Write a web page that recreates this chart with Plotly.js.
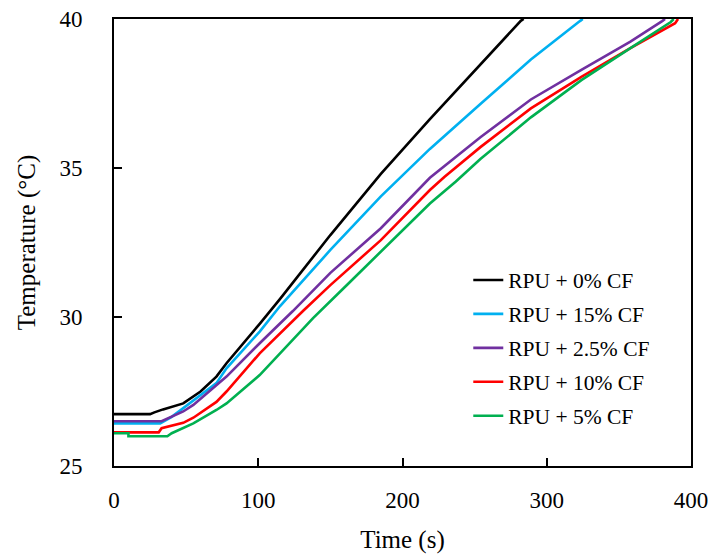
<!DOCTYPE html>
<html>
<head>
<meta charset="utf-8">
<script src="https://cdn.plot.ly/plotly-3.0.1.min.js"></script>
<style>html,body{margin:0;padding:0;background:#fff;}#chart{width:713px;height:554px;}</style>
</head>
<body>
<div id="chart"></div>
<script>
// Series names (legend order)
const seriesNames = ["RPU + 0% CF", "RPU + 15% CF", "RPU + 2.5% CF", "RPU + 10% CF", "RPU + 5% CF"];

// Time (s) and temperature (°C)
const t_cf0  = [0, 25, 28, 34, 48, 60, 71, 78, 101, 108, 115, 150, 185, 219, 254, 282, 284];
const T_cf0  = [26.74, 26.74, 26.8, 26.9, 27.1, 27.5, 28.0, 28.45, 29.77, 30.18, 30.6, 32.75, 34.8, 36.64, 38.49, 39.94, 40.0];

const t_cf15 = [0, 32, 40, 48, 55, 71, 78, 101, 115, 150, 185, 219, 254, 289, 323, 325];
const T_cf15 = [26.43, 26.43, 26.65, 26.94, 27.21, 27.78, 28.28, 29.51, 30.36, 32.25, 34.05, 35.64, 37.15, 38.64, 39.93, 40.0];

const t_cf25 = [0, 33, 48, 55, 78, 101, 124, 150, 185, 219, 254, 289, 324, 358, 380, 382];
const T_cf25 = [26.5, 26.5, 26.83, 27.05, 28.0, 29.12, 30.2, 31.48, 32.98, 34.67, 36.03, 37.3, 38.29, 39.24, 39.93, 40.0];

const t_cf10 = [0, 31, 33, 48, 55, 71, 78, 101, 131, 150, 185, 219, 229, 254, 289, 324, 358, 389, 391];
const T_cf10 = [26.13, 26.13, 26.27, 26.45, 26.62, 27.15, 27.5, 28.78, 30.2, 31.07, 32.58, 34.26, 34.7, 35.7, 37.0, 38.06, 39.02, 39.86, 40.0];

const t_cf5  = [0, 10, 10, 37, 40, 48, 55, 71, 78, 101, 124, 138, 162, 185, 219, 237, 254, 289, 324, 358, 386, 388];
const T_cf5  = [26.1, 26.1, 26.0, 26.0, 26.1, 26.27, 26.43, 26.88, 27.1, 28.05, 29.23, 29.96, 31.1, 32.2, 33.81, 34.55, 35.3, 36.7, 37.95, 39.02, 39.9, 40.0];

const xTicks = [0, 100, 200, 300, 400];
const yTicks = [25, 30, 35, 40];

const colors = ["#000000", "#00B0F0", "#7030A0", "#FF0000", "#00B050"];
const xs = [t_cf0, t_cf15, t_cf25, t_cf10, t_cf5];
const ys = [T_cf0, T_cf15, T_cf25, T_cf10, T_cf5];

const FONT = "'Liberation Serif', 'Times New Roman', serif";

const traces = seriesNames.map((n, i) => ({
  x: xs[i], y: ys[i], name: n, type: "scatter", mode: "lines",
  legendgroup: "g" + i,
  line: {color: colors[i], width: 2.6}
}));

const axisCommon = {
  showgrid: false, zeroline: false, showline: true, mirror: true,
  linecolor: "#000", linewidth: 2, ticks: "inside", ticklen: 8, tickwidth: 2, tickcolor: "#000",
  tickfont: {family: FONT, size: 23, color: "#000"}
};

const layout = {
  width: 713, height: 554,
  margin: {l: 114, r: 22, t: 19, b: 88},
  paper_bgcolor: "#fff", plot_bgcolor: "#fff",
  font: {family: FONT, color: "#000"},
  xaxis: Object.assign({}, axisCommon, {
    range: [0, 400], tickvals: xTicks, ticktext: xTicks.map(String),
    ticklabelstandoff: 12,
    title: {text: "Time (s)", font: {family: FONT, size: 25, color: "#000"}, standoff: 19}
  }),
  yaxis: Object.assign({}, axisCommon, {
    range: [25, 40], tickvals: yTicks, ticktext: yTicks.map(String),
    ticklabelstandoff: 25,
    title: {text: "Temperature (°C)", font: {family: FONT, size: 25, color: "#000"}, standoff: 17}
  }),
  legend: {
    x: 0.614, y: 0.462, xanchor: "left", yanchor: "top",
    bgcolor: "rgba(0,0,0,0)", borderwidth: 0,
    font: {family: FONT, size: 21.5, color: "#000"},
    tracegroupgap: 3, itemwidth: 30
  },
  showlegend: true
};

Plotly.newPlot("chart", traces, layout, {displayModeBar: false, staticPlot: true});
</script>
</body>
</html>
